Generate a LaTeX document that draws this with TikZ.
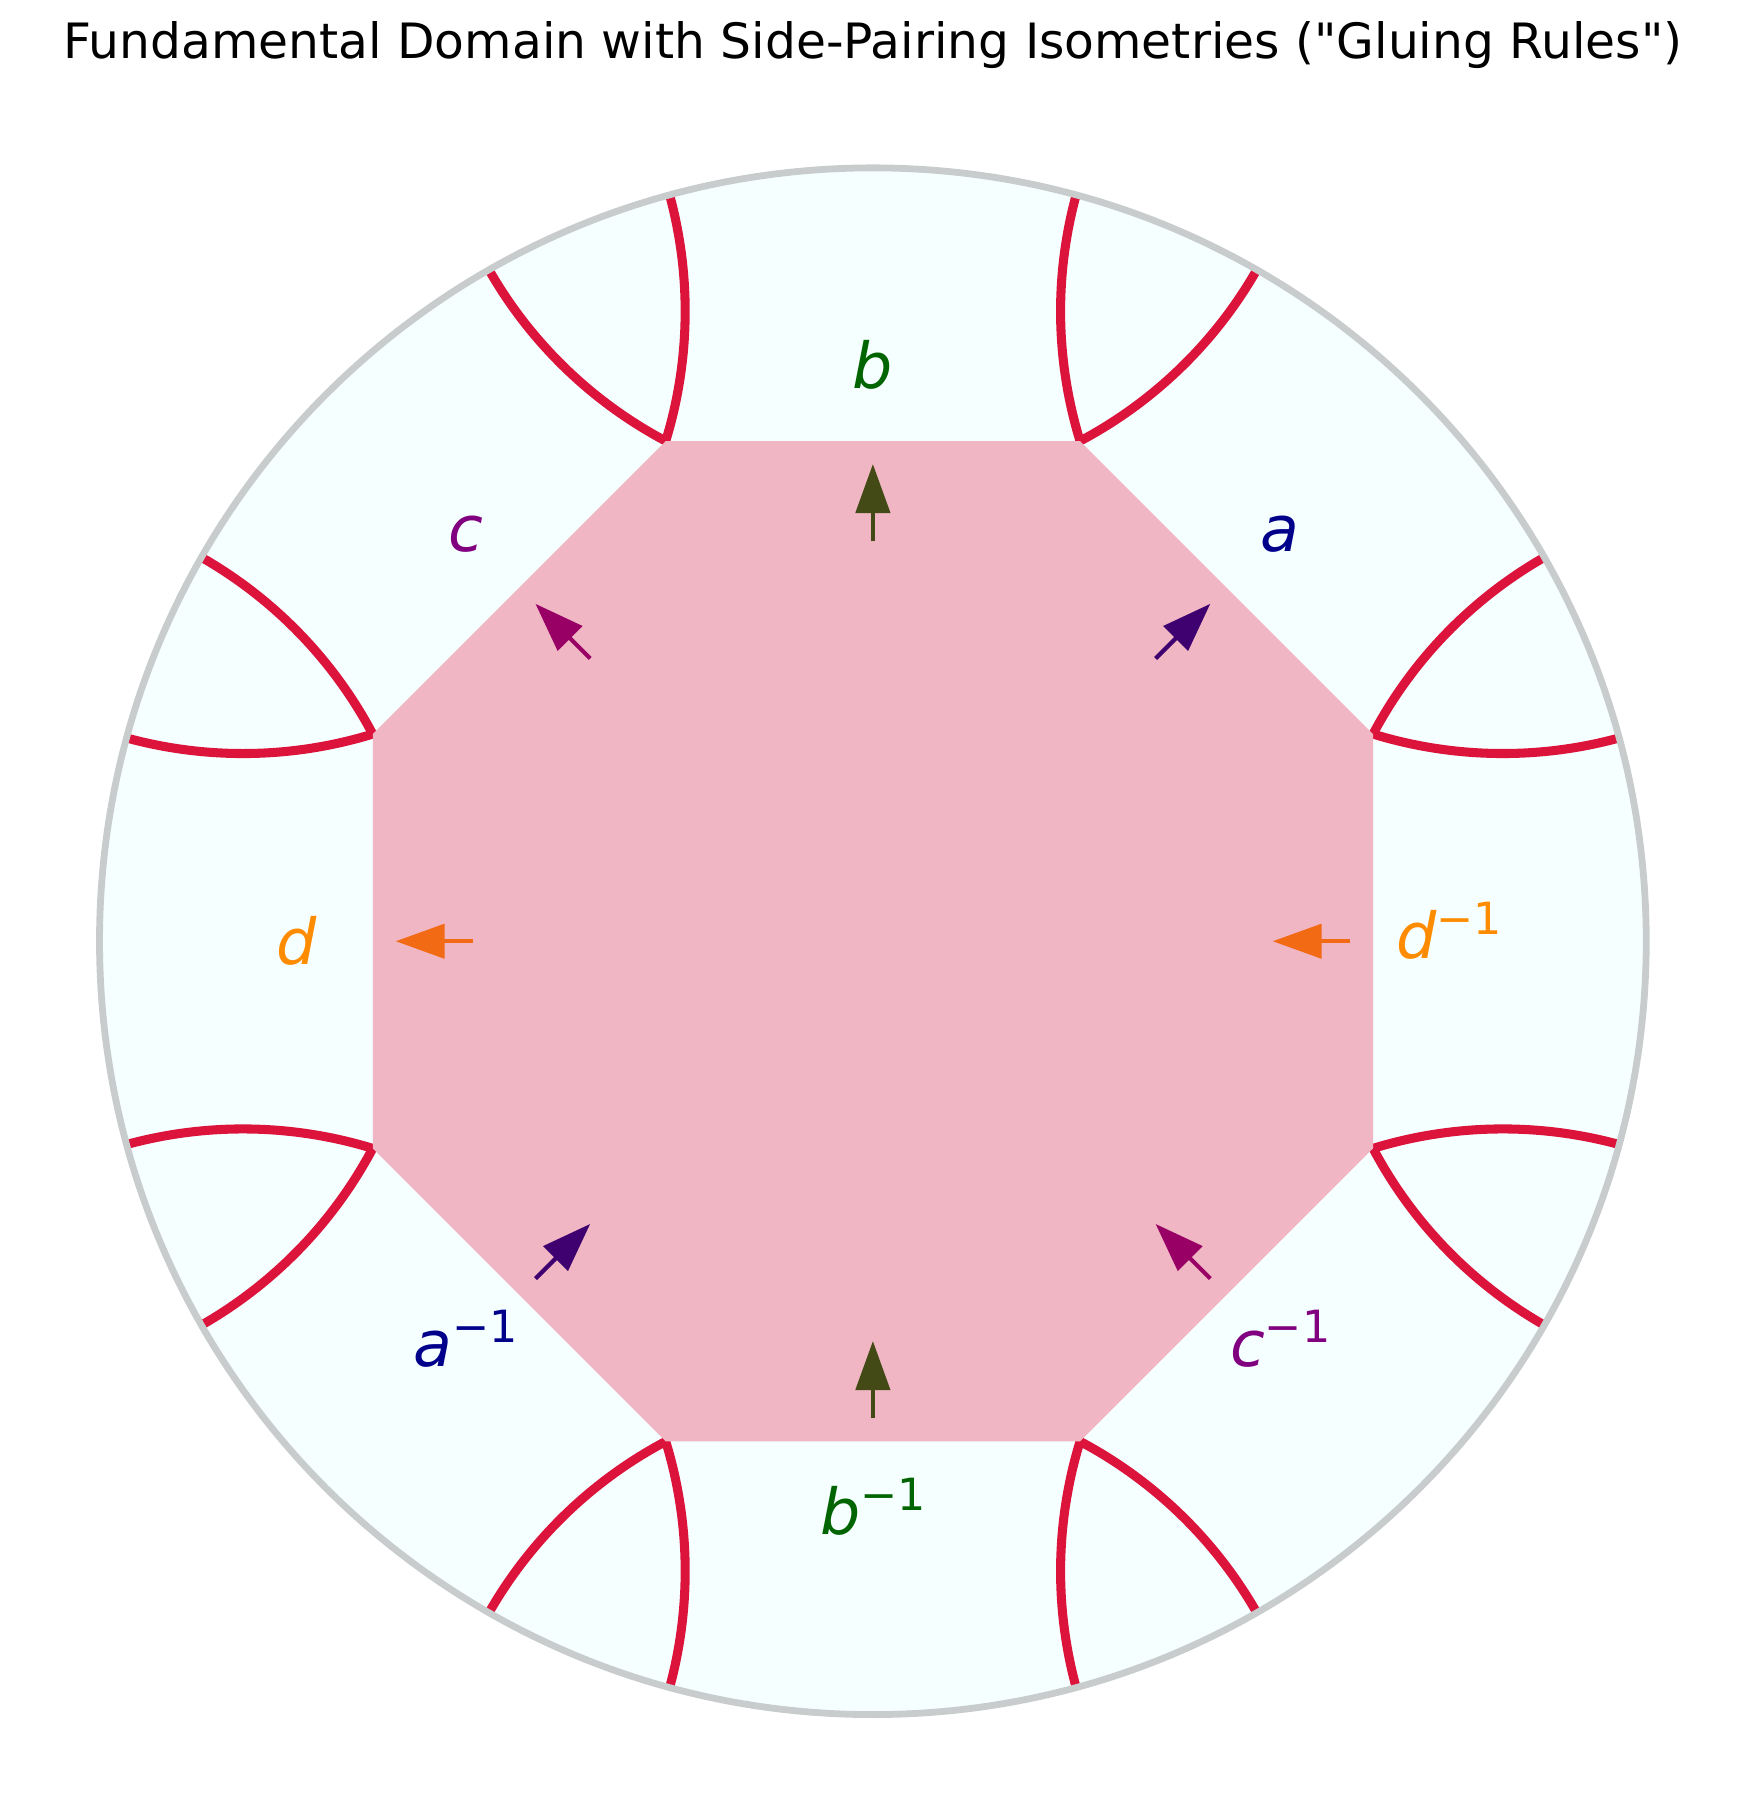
\documentclass[tikz,border=0pt]{standalone}
\usepackage{fontspec}
\setmainfont{DejaVu Sans}[Ligatures=TeXOff]
\usetikzlibrary{arrows.meta}
\definecolor{diskfill}{HTML}{F5FFFF}
\definecolor{rimgray}{HTML}{C8CCCC}
\definecolor{octpink}{HTML}{F0B6C3}
\definecolor{gluered}{HTML}{DC143C}
\definecolor{lblgreen}{HTML}{006400}
\definecolor{lblblue}{HTML}{00008B}
\definecolor{lblpurple}{HTML}{800080}
\definecolor{lblorange}{HTML}{FF8C00}
\definecolor{arrgreen}{HTML}{434A15}
\definecolor{arrblue}{HTML}{3F0070}
\definecolor{arrpurple}{HTML}{990066}
\definecolor{arrorange}{HTML}{F26A14}
\newcommand{\invlbl}[1]{{\itshape #1}\raisebox{0.38em}{\fontsize{9.8}{10}\selectfont −1}}
\begin{document}
\begin{tikzpicture}[x=6cm,y=6cm,
    sidelbl/.style={inner sep=0pt,font=\fontsize{14}{16}\selectfont},
    invside/.style={sidelbl,yshift=0.08cm},
    gluearc/.style={gluered,line width=2pt},
    pairarrow/.style={line width=0.9pt,-{Triangle[length=0.38cm,width=0.265cm]}}]
  \useasboundingbox (-1.1287,-1.1182) rectangle (1.1168,1.2171);
  \fill[diskfill] (0,0) circle (1);
  % continuations of the side geodesics
  \foreach \ang in {0,45,...,315}{
    \draw[gluearc] (\ang:1.15198) ++(\ang+119.76:0.57189) arc[start angle=\ang+119.76,end angle=\ang+152.07,radius=0.57189];
    \draw[gluearc] (\ang:1.15198) ++(\ang+207.93:0.57189) arc[start angle=\ang+207.93,end angle=\ang+240.24,radius=0.57189];
  }
  \foreach \i in {0,...,7}
    \coordinate (v\i) at (22.5+45*\i:0.7);
  \fill[octpink] (v0) -- (v1) -- (v2) -- (v3) -- (v4) -- (v5) -- (v6) -- (v7) -- cycle;
  \draw[rimgray,line width=1.5pt] (0,0) circle (1);
  % pairing arrows
  \draw[pairarrow,arrgreen] (90:0.517) -- (90:0.617);
  \draw[pairarrow,arrgreen] (270:0.617) -- (270:0.517);
  \draw[pairarrow,arrblue] (45:0.517) -- (45:0.617);
  \draw[pairarrow,arrblue] (225:0.617) -- (225:0.517);
  \draw[pairarrow,arrpurple] (135:0.517) -- (135:0.617);
  \draw[pairarrow,arrpurple] (315:0.617) -- (315:0.517);
  \draw[pairarrow,arrorange] (180:0.517) -- (180:0.617);
  \draw[pairarrow,arrorange] (0:0.617) -- (0:0.517);
  % side labels
  \node[sidelbl,text=lblgreen] (lblb) at (90:0.745) {\itshape b};
  \node[invside,text=lblgreen] (lblbinv) at (270:0.745) {\invlbl{b}};
  \node[sidelbl,text=lblblue] (lbla) at (45:0.745) {\itshape a};
  \node[invside,text=lblblue] (lblainv) at (225:0.745) {\invlbl{a}};
  \node[sidelbl,text=lblpurple] (lblc) at (135:0.745) {\itshape c};
  \node[invside,text=lblpurple] (lblcinv) at (315:0.745) {\invlbl{c}};
  \node[sidelbl,text=lblorange] (lbld) at (180:0.745) {\itshape d};
  \node[invside,text=lblorange] (lbldinv) at (0:0.745) {\invlbl{d}};
  \node[font=\fontsize{10.75}{13}\selectfont,anchor=base] (title) at (0,1.141) {Fundamental Domain with Side-Pairing Isometries ("Gluing Rules")};
\end{tikzpicture}
\end{document}
